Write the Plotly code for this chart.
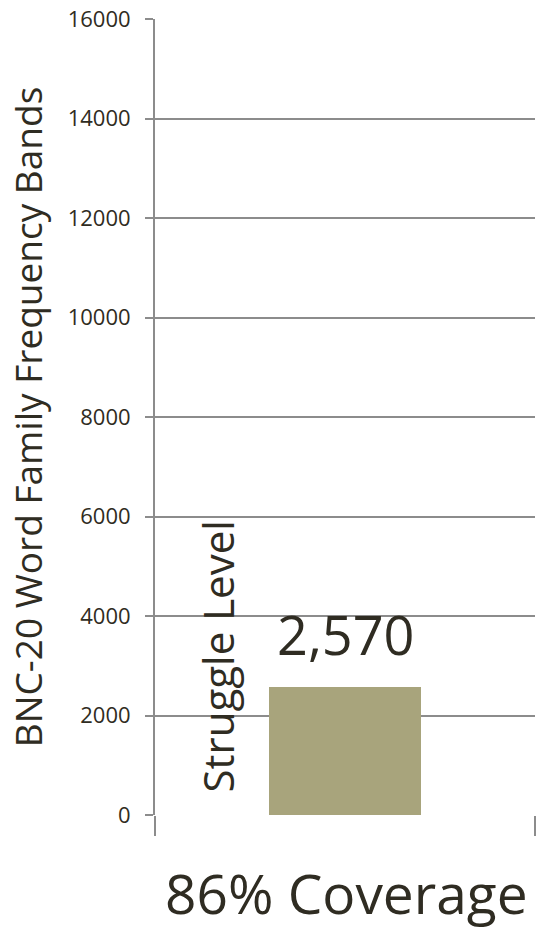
import plotly.graph_objects as go

categories = [0]
values = [2570]
bar_labels = ["2,570"]
side_label = "Struggle Level"
y_title = "BNC-20 Word Family Frequency Bands"
x_title = "86% Coverage"
y_ticks = [0, 2000, 4000, 6000, 8000, 10000, 12000, 14000, 16000]
y_ticktext = [str(v) for v in y_ticks]

FONT = "Open Sans"
TXT = "#2f2c22"
GRID = "#8c8c8c"

fig = go.Figure()
fig.add_trace(go.Bar(
    x=categories, y=values, width=0.4,
    marker=dict(color="#a8a47c", line=dict(width=0)),
    cliponaxis=False,
))

fig.add_annotation(
    x=categories[0], y=values[0], xref="x", yref="y", text=bar_labels[0],
    showarrow=False, yanchor="bottom", yshift=14,
    font=dict(family=FONT, size=54, color=TXT),
)

fig.add_annotation(
    x=-0.335, y=3180, xref="x", yref="y", text=side_label, showarrow=False,
    textangle=-90, font=dict(family=FONT, size=42, color=TXT),
)

fig.add_annotation(
    x=0.5, y=0, xref="paper", yref="paper", text=x_title, showarrow=False,
    yanchor="middle", xanchor="center", xshift=1, yshift=-77,
    font=dict(family=FONT, size=55, color=TXT),
)

fig.update_layout(
    width=539, height=930,
    margin=dict(l=155, r=4, t=19, b=115),
    paper_bgcolor="white", plot_bgcolor="white",
    showlegend=False,
    bargap=0,
)
fig.update_xaxes(
    range=[-0.5, 0.5], tickvals=[-0.5, 0.5], ticktext=["", ""],
    ticks="outside", ticklen=20, tickwidth=2, tickcolor=GRID,
    showgrid=False, zeroline=False, showline=False,
)
fig.update_yaxes(
    range=[0, 16000], tickvals=y_ticks, ticktext=y_ticktext,
    ticks="outside", ticklen=8, tickwidth=2, tickcolor=GRID,
    showgrid=True, gridcolor=GRID, gridwidth=2,
    showline=True, linecolor=GRID, linewidth=2,
    zeroline=False, ticklabelstandoff=10,
    tickfont=dict(family=FONT, size=22, color=TXT),
    title=dict(text=y_title, font=dict(family=FONT, size=37, color=TXT), standoff=14),
)

fig.write_html("out.html")
